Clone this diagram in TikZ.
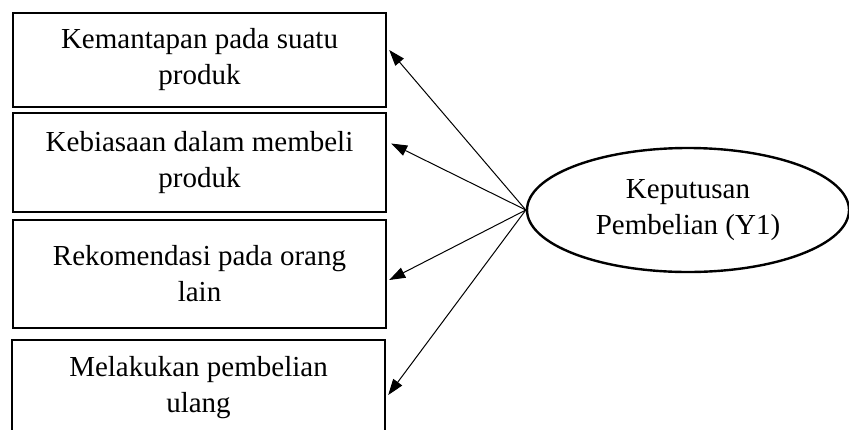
\documentclass[tikz,border=0pt]{standalone}
\usepackage{fontspec}
\setmainfont{Liberation Serif}
\usetikzlibrary{arrows.meta, shapes.geometric}

\begin{document}
\begin{tikzpicture}[x=0.5pt,y=-0.5pt,
    indbox/.style={draw, line width=1.2pt, minimum width=186.5pt, inner sep=0pt, align=center,
        font=\fontsize{14.5pt}{18pt}\selectfont},
    latent/.style={draw, ellipse, line width=1.2pt, minimum width=161pt, minimum height=62pt,
        inner sep=0pt, align=center, font=\fontsize{14.5pt}{18pt}\selectfont},
    loading/.style={-{Triangle[length=8pt,width=5.5pt]}, line width=0.5pt}]
    \useasboundingbox (0,0) rectangle (849,429);
    % indikator
    \node[indbox, minimum height=47pt] (k1) at (199.5,60) {Kemantapan pada suatu\\produk};
    \node[indbox, minimum height=49.5pt] (k2) at (199.5,162.5) {Kebiasaan dalam membeli\\produk};
    \node[indbox, minimum height=54pt] (k3) at (199.5,274) {Rekomendasi pada orang\\lain};
    \node[indbox, minimum height=48pt] (k4) at (198.5,388) {Melakukan pembelian\\ulang};
    % variabel laten
    \node[latent] (y1) at (688,210) {Keputusan\\Pembelian (Y1)};
    \draw[loading] (y1.west) -- ([xshift=1pt,yshift=5pt]k1.east);
    \draw[loading] (y1.west) -- ([xshift=2pt,yshift=9.5pt]k2.east);
    \draw[loading] (y1.west) -- ([xshift=1pt,yshift=-3pt]k3.east);
    \draw[loading] (y1.west) -- ([xshift=1pt,yshift=-3.5pt]k4.east);
\end{tikzpicture}
\end{document}
